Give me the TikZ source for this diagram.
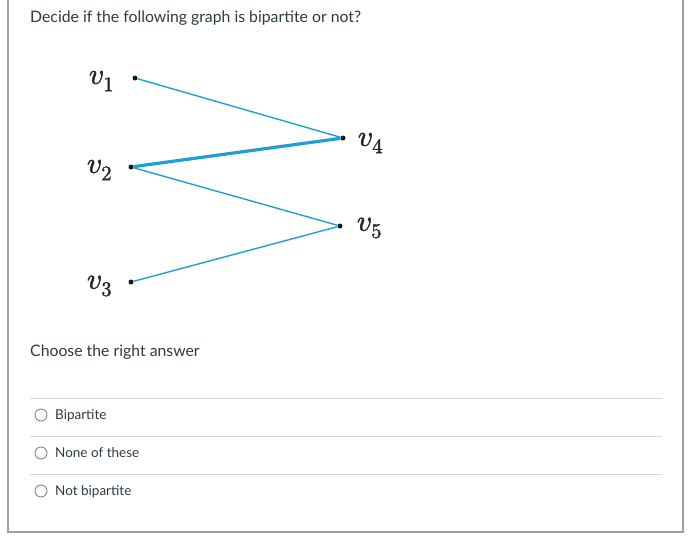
\documentclass[tikz,border=0pt]{standalone}
\usepackage{fontspec}
\usepackage{unicode-math}
\setmainfont{Lato}
\setmathfont{Latin Modern Math}[FakeBold=1.6]
\usetikzlibrary{positioning}

\definecolor{edgeblue}{RGB}{30,160,215}
\definecolor{txtgray}{RGB}{45,59,69}
\definecolor{rulegray}{RGB}{210,214,217}
\definecolor{framegray}{RGB}{160,160,160}
\definecolor{radiogray}{RGB}{130,138,145}

\tikzset{
    vert/.style={circle, fill=black!90, inner sep=0pt, minimum size=5pt},
    vlab/.style={inner sep=0pt, text=black!85, font=\fontsize{29.5}{32}\selectfont},
    gedge/.style={draw=edgeblue, line width=1.4pt},
    gedgethick/.style={draw=edgeblue, line width=3.2pt},
    qtext/.style={anchor=base west, inner sep=0pt, text=txtgray, font=\fontsize{15.8}{18}\selectfont},
    otext/.style={anchor=base west, inner sep=0pt, text=txtgray, font=\fontsize{13.5}{16}\selectfont},
    radio/.style={circle, draw=radiogray, line width=0.9pt, inner sep=0pt, minimum size=12pt},
}

\begin{document}
\begin{tikzpicture}[x=1pt, y=-1pt]
    \useasboundingbox (0,0) rectangle (688,557);
    \fill[white] (0,0) rectangle (688,557);
    % card frame, open at the top
    \draw[framegray, line width=1.2pt] (8,0) -- (8,532) -- (683,532) -- (683,0);

    \node[qtext] (title) at (30,22) {Decide if the following graph is bipartite or not?};

    % the graph
    \node[vert] (v1) at (135,78) {};
    \node[vert] (v2) at (131,167) {};
    \node[vert] (v3) at (131,282) {};
    \node[vert] (v4) at (343,138) {};
    \node[vert] (v5) at (340,226) {};
    \node[vlab, left=18pt of v1, yshift=-3pt] (l1) {$v_1$};
    \node[vlab, left=16pt of v2, yshift=-3pt] (l2) {$v_2$};
    \node[vlab, left=16pt of v3, yshift=-4pt] (l3) {$v_3$};
    \node[vlab, right=12pt of v4, yshift=-5pt] (l4) {$v_4$};
    \node[vlab, right=14pt of v5, yshift=-2pt] (l5) {$v_5$};
    \draw[gedge] (v1) -- (v4);
    \draw[gedgethick] (v2) -- (v4);
    \draw[gedge] (v2) -- (v5);
    \draw[gedge] (v3) -- (v5);

    \node[qtext] (ask) at (30,356) {Choose the right answer};

    % answer list
    \foreach \y/\ans [count=\i] in {398/Bipartite, 436/None of these, 474/Not bipartite} {
        \coordinate (r\i a) at (30,\y);
        \coordinate (r\i b) at (662,\y);
        \draw[rulegray, line width=1pt] (r\i a) -- (r\i b);
        \node[radio] (c\i) at (41,\y+17) {};
        \node[otext] (o\i) at (55,\y+21) {\ans};
    }
\end{tikzpicture}
\end{document}
